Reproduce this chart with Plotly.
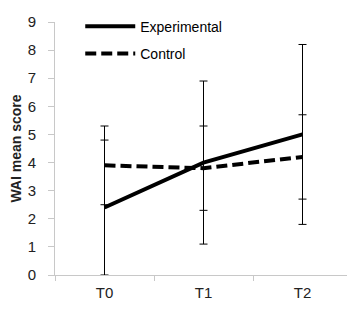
import plotly.graph_objects as go

categories = ["T0", "T1", "T2"]
exp_mean = [2.4, 4.0, 5.0]
exp_err = [2.4, 2.9, 3.2]
ctrl_mean = [3.9, 3.8, 4.2]
ctrl_err = [1.4, 1.5, 1.5]
y_ticks = list(range(0, 10))

fig = go.Figure()
fig.add_trace(go.Scatter(
    x=categories, y=exp_mean, name="Experimental", mode="lines",
    line=dict(color="black", width=4), legendgroup="a",
    error_y=dict(type="data", array=exp_err, color="black", thickness=1, width=4),
))
fig.add_trace(go.Scatter(
    x=categories, y=ctrl_mean, name="Control", mode="lines",
    line=dict(color="black", width=4, dash="11px,5px"), legendgroup="b",
    error_y=dict(type="data", array=ctrl_err, color="black", thickness=1, width=4),
))

# page body has an 8px margin, so the figure is 8px smaller on each side
fig.update_layout(
    width=347, height=305,
    margin=dict(l=47, r=3, t=5, b=38),
    paper_bgcolor="white", plot_bgcolor="white",
    font=dict(family="Liberation Sans, Arial, sans-serif", size=14, color="#222"),
    showlegend=True,
    legend=dict(x=0.085, y=1.045, xanchor="left", yanchor="top",
                bgcolor="rgba(0,0,0,0)", font=dict(size=14, color="black"),
                tracegroupgap=6, itemwidth=50),
)
fig.update_xaxes(
    type="category", range=[-0.5, 2.5], showgrid=False, automargin=False,
    showline=True, linecolor="#c8c8c8", linewidth=1,
    ticks="outside", tickson="boundaries", ticklen=5, tickcolor="#c8c8c8",
    tickfont=dict(size=15, color="#222"), ticklabelstandoff=4,
)
fig.update_yaxes(
    range=[0, 9], tickvals=y_ticks, showgrid=False, zeroline=False, automargin=False,
    showline=True, linecolor="#c8c8c8", linewidth=1,
    ticks="outside", ticklen=6, tickcolor="#c8c8c8",
    tickfont=dict(size=15, color="#222"), ticklabelstandoff=9,
    title=dict(text="<b>WAI mean score</b>", font=dict(size=14, color="#222")),
)
fig.write_html("out.html")
